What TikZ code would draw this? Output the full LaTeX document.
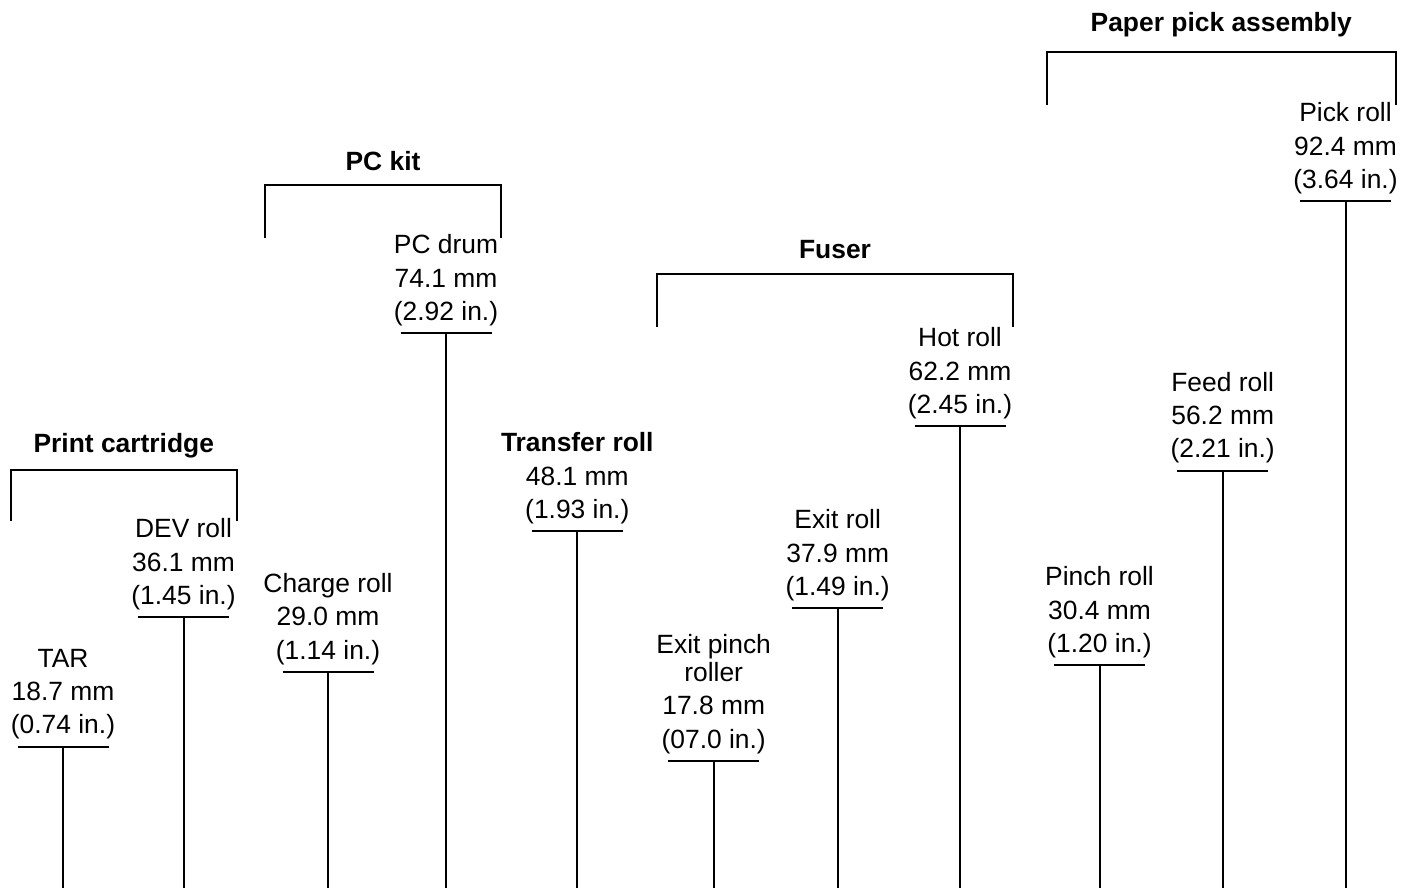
\documentclass[tikz,border=0pt]{standalone}
\usepackage{fontspec}
\setmainfont{Liberation Sans}

\begin{document}
\begin{tikzpicture}[
    x=0.5pt, y=-0.5pt,
    every node/.style={font=\fontsize{13.2}{16.6}\selectfont},
    roll/.style={align=center, anchor=south, inner xsep=0pt, inner ysep=3.4pt},
    group/.style={anchor=base, inner sep=0pt, font=\fontsize{13.2}{16.6}\selectfont\bfseries},
    stem/.style={line width=1pt},
    bracket/.style={line width=1pt}
  ]
    \useasboundingbox (0,0) rectangle (1413,888);
    \coordinate (floor) at (0,888);

    % group headers and brackets
    \node[group] (cart) at (123.8,452) {Print cartridge};
    \node[group] (pckit) at (383,170) {PC kit};
    \node[group] (fuser) at (835,258) {Fuser};
    \node[group] (pick) at (1221.3,32) {Paper pick assembly};

    \draw[bracket] (11,521) |- (237,470) -- (237,521);
    \draw[bracket] (265,238) |- (501,185) -- (501,238);
    \draw[bracket] (657,327) |- (1013,274) -- (1013,327);
    \draw[bracket] (1047,105) |- (1395.5,52) -- (1395.5,105);

    % roll labels
    \node[roll] (tar) at (63,746.5) {TAR\\18.7 mm\\(0.74 in.)};
    \node[roll] (dev) at (183.5,617) {DEV roll\\36.1 mm\\(1.45 in.)};
    \node[roll] (charge) at (328,671.7) {Charge roll\\29.0 mm\\(1.14 in.)};
    \node[roll] (drum) at (446,333) {PC drum\\74.1 mm\\(2.92 in.)};
    \node[roll] (transfer) at (577.3,531) {\textbf{Transfer roll}\\48.1 mm\\(1.93 in.)};
    \node[roll] (exitpinch) at (713.7,760.7) {Exit pinch\\[-2.5pt]roller\\17.8 mm\\(07.0 in.)};
    \node[roll] (exit) at (837.7,608) {Exit roll\\37.9 mm\\(1.49 in.)};
    \node[roll] (hot) at (960,426) {Hot roll\\62.2 mm\\(2.45 in.)};
    \node[roll] (pinch) at (1099.5,665) {Pinch roll\\30.4 mm\\(1.20 in.)};
    \node[roll] (feed) at (1222.7,470.5) {Feed roll\\56.2 mm\\(2.21 in.)};
    \node[roll] (pickroll) at (1345.5,201) {Pick roll\\92.4 mm\\(3.64 in.)};

    % bars and stems
    \draw[stem] ([xshift=-22.75pt]tar.south) -- ([xshift=22.75pt]tar.south) (tar.south) -- (tar.south |- floor);
    \draw[stem] ([xshift=-22.75pt]dev.south) -- ([xshift=22.75pt]dev.south) (dev.south) -- (dev.south |- floor);
    \draw[stem] ([xshift=-22.75pt]charge.south) -- ([xshift=22.75pt]charge.south) (charge.south) -- (charge.south |- floor);
    \draw[stem] ([xshift=-22.75pt]drum.south) -- ([xshift=22.75pt]drum.south) (drum.south) -- (drum.south |- floor);
    \draw[stem] ([xshift=-22.75pt]transfer.south) -- ([xshift=22.75pt]transfer.south) (transfer.south) -- (transfer.south |- floor);
    \draw[stem] ([xshift=-22.75pt]exitpinch.south) -- ([xshift=22.75pt]exitpinch.south) (exitpinch.south) -- (exitpinch.south |- floor);
    \draw[stem] ([xshift=-22.75pt]exit.south) -- ([xshift=22.75pt]exit.south) (exit.south) -- (exit.south |- floor);
    \draw[stem] ([xshift=-22.75pt]hot.south) -- ([xshift=22.75pt]hot.south) (hot.south) -- (hot.south |- floor);
    \draw[stem] ([xshift=-22.75pt]pinch.south) -- ([xshift=22.75pt]pinch.south) (pinch.south) -- (pinch.south |- floor);
    \draw[stem] ([xshift=-22.75pt]feed.south) -- ([xshift=22.75pt]feed.south) (feed.south) -- (feed.south |- floor);
    \draw[stem] ([xshift=-22.75pt]pickroll.south) -- ([xshift=22.75pt]pickroll.south) (pickroll.south) -- (pickroll.south |- floor);
  \end{tikzpicture}
\end{document}
